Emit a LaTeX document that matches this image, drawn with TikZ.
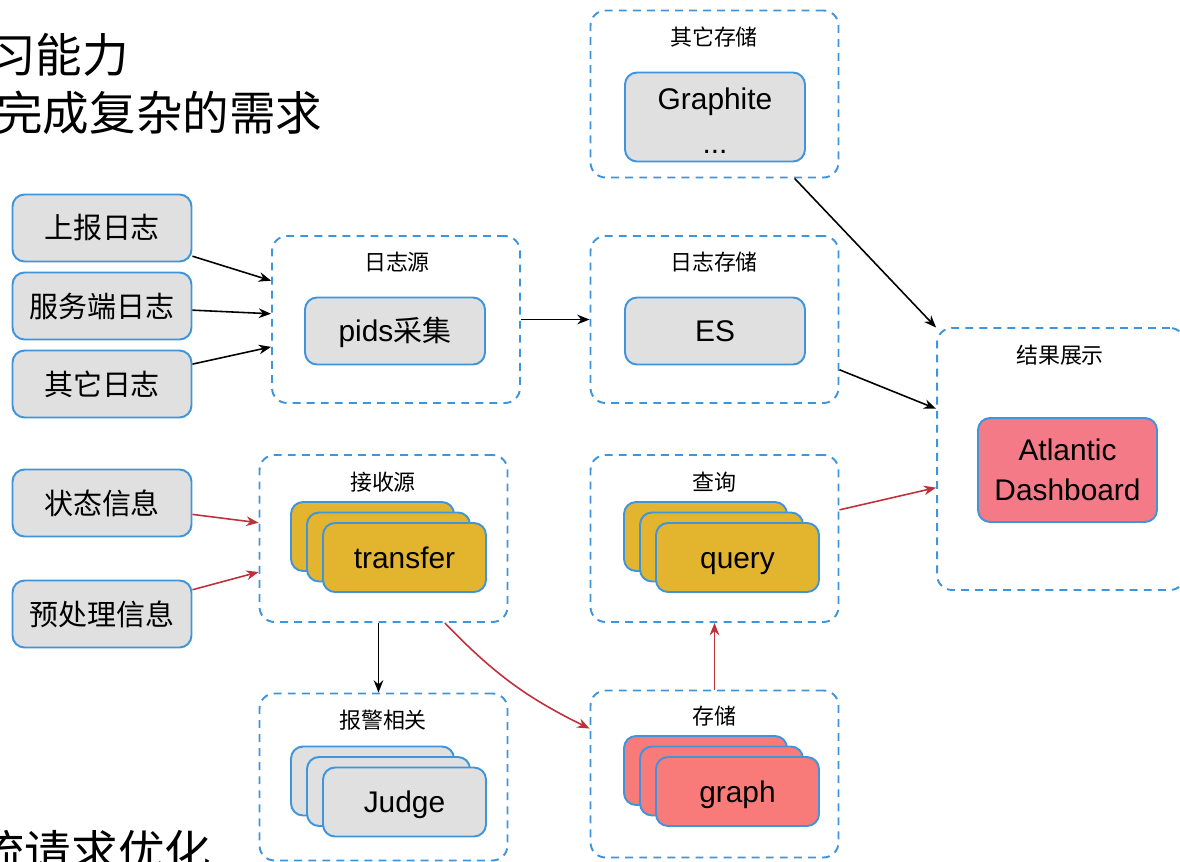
\documentclass[tikz,border=0pt]{standalone}
\usepackage{fontspec}
\setmainfont{Noto Sans CJK SC}
\newfontfamily\latinfont{Liberation Sans}
\usetikzlibrary{positioning,shapes,arrows,arrows.meta,shadows}

\definecolor{lineblue}{HTML}{3E95DB}
\definecolor{boxgray}{HTML}{E0E0E0}
\definecolor{boxyellow}{HTML}{E3B52F}
\definecolor{boxred}{HTML}{F87B79}
\definecolor{boxpink}{HTML}{F47A88}
\definecolor{arrred}{HTML}{C0303A}

\tikzset{
  grp/.style={draw=lineblue, dash pattern=on 4.5pt off 3.5pt, line width=1.1pt,
    rounded corners=0.3cm, minimum width=4.96cm, minimum height=3.34cm},
  grptitle/.style={font=\fontsize{12.5}{14}\selectfont},
  logbox/.style={draw=lineblue, fill=boxgray, line width=1.1pt, rounded corners=0.24cm,
    minimum width=3.58cm, minimum height=1.34cm, inner sep=0pt, font=\fontsize{16.5}{20}\selectfont},
  latin/.style={font=\latinfont\fontsize{17}{21}\selectfont},
  latinline/.style={latin, text height=15pt, text depth=3pt},
  stackbox/.style={logbox, latinline, minimum width=3.26cm, minimum height=1.38cm,
    double copy shadow={shadow xshift=-0.32cm, shadow yshift=0.21cm}},
  slide/.style={anchor=west, inner sep=0pt, font=\fontsize{26.5}{30}\selectfont},
  blk/.style={-{Stealth[length=7pt,width=5.5pt]}, black, line width=0.9pt},
  redarr/.style={-{Stealth[length=7pt,width=5.5pt]}, arrred, line width=0.9pt},
}

\begin{document}
\begin{tikzpicture}[x=0.02cm, y=-0.02cm]
    \useasboundingbox (0,0) rectangle (1180,862);

    % slide text, cut at the edges
    \node[slide] (t1) at (-11,55) {习能力};
    \node[slide] (t2) at (-4,113) {完成复杂的需求};
    \node[slide] (t3) at (-22,852) {流请求优化};

    % sources on the left
    \node[logbox] (up) at (102,228) {上报日志};
    \node[logbox] (srv) at (102,306) {服务端日志};
    \node[logbox] (oth) at (102,384) {其它日志};
    \node[logbox] (state) at (102,503) {状态信息};
    \node[logbox] (pre) at (102,614) {预处理信息};

    % groups
    \node[grp] (gsrc) at (396,319.5) {};
    \node[grp] (grecv) at (383.5,538.5) {};
    \node[grp] (galarm) at (383.5,777) {};
    \node[grp] (gother) at (714.5,94) {};
    \node[grp] (glog) at (714.5,319.5) {};
    \node[grp] (gquery) at (714.5,538.5) {};
    \node[grp] (gstore) at (714.5,774) {};
    \node[grp, minimum height=5.24cm] (gres) at (1061,459) {};

    \node[grptitle] at (397,262) {日志源};
    \node[grptitle] at (383,482) {接收源};
    \node[grptitle] at (383,720) {报警相关};
    \node[grptitle] at (714,37) {其它存储};
    \node[grptitle] at (714,262) {日志存储};
    \node[grptitle] at (714,482) {查询};
    \node[grptitle] at (714,716) {存储};
    \node[grptitle] at (1060,355) {结果展示};

    % boxes in the groups
    \node[logbox, latinline, minimum width=3.6cm] (pids) at (395,331) {pids\normalfont\fontsize{16.5}{20}\selectfont 采集};
    \node[logbox, latinline, minimum width=3.6cm] (es) at (715,331) {ES};
    \node[logbox, latin, minimum width=3.6cm, minimum height=1.78cm, align=center] (graphite) at (715,117)
      {\rule{0pt}{17pt}Graphite\\[4pt]...};
    \node[stackbox, fill=boxyellow] (transfer) at (404.5,557.5) {transfer};
    \node[stackbox] (judge) at (404.5,802) {Judge};
    \node[stackbox, fill=boxyellow] (query) at (737.5,557.5) {query};
    \node[stackbox, fill=boxred] (graph) at (737.5,791.5) {graph};
    \node[logbox, latin, fill=boxpink, minimum height=2.08cm, align=center] (atl) at (1067.5,470)
      {Atlantic\\[2pt]Dashboard};

    % connectors
    \draw[blk] (up) -- (gsrc);
    \draw[blk] (srv) -- (gsrc);
    \draw[blk] (oth) -- (gsrc);
    \draw[blk] (gsrc) -- (glog);
    \draw[blk] (gother) -- (gres);
    \draw[blk] (glog) -- (gres);
    \draw[blk] ([xshift=-0.1cm]grecv.south) -- ([xshift=-0.1cm]galarm.north);
    \draw[redarr] (state) -- (grecv);
    \draw[redarr] (pre) -- (grecv);
    \draw[redarr] (gquery) -- (gres);
    \draw[redarr] (gstore) -- (gquery);
    \draw[redarr] (grecv.-54) to[bend right=10] (gstore.160);
\end{tikzpicture}
\end{document}
